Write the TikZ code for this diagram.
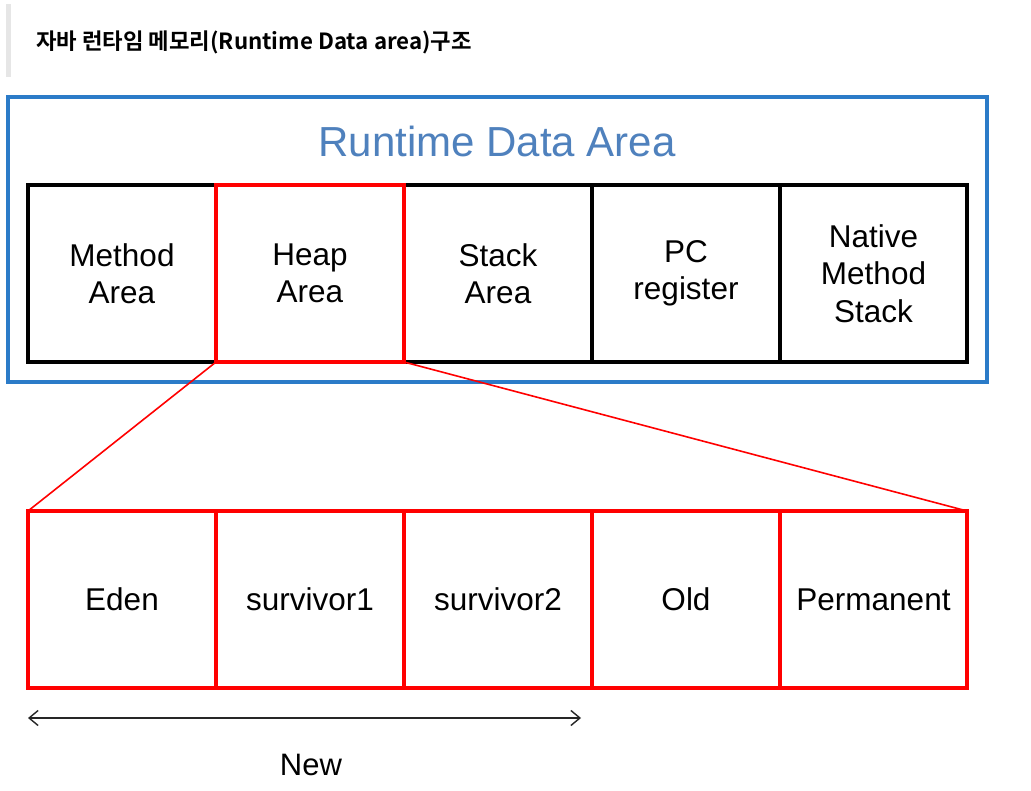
\documentclass[tikz,border=0pt]{standalone}
\usepackage{fontspec}
\setmainfont{Liberation Sans}
\newfontfamily\krfont{Noto Sans CJK KR Bold}
\usetikzlibrary{arrows.meta}
\definecolor{areablue}{HTML}{2B7BC8}
\definecolor{titleblue}{HTML}{4F81BD}
\definecolor{barGray}{HTML}{E6E6E6}
\tikzset{
  cell/.style={draw=black, line width=3.2pt, minimum width=188pt, minimum height=177pt,
    inner sep=0pt, outer sep=0pt, align=center,
    font=\fontsize{31.5}{37.5}\selectfont},
  heapcell/.style={cell, draw=red},
  zoomline/.style={draw=red, line width=1.6pt},
  spanarrow/.style={draw=black!85, line width=1.4pt, {Straight Barb[length=9pt,width=15pt,line width=1.4pt]}-{Straight Barb[length=9pt,width=15pt,line width=1.4pt]}}
}
\begin{document}
\begin{tikzpicture}[x=1pt,y=-1pt]
\useasboundingbox[fill=white] (0,0) rectangle (1031,791);
% title bar
\fill[barGray] (6,4) rectangle (11,77);
\node[anchor=west, inner sep=0pt, font=\krfont\fontsize{22.3}{26}\selectfont] (title) at (36,42) {자바 런타임 메모리(Runtime Data area)구조};
% outer blue area
\node[draw=areablue, line width=3.2pt, minimum width=979pt, minimum height=285pt, inner sep=0pt] (rda) at (497.5,239.5) {};
\node[text=titleblue, font=\fontsize{42}{48}\selectfont, inner sep=0pt, anchor=base] (rdatitle) at (497,157) {Runtime Data Area};
% top row
\node[cell] (method) at (122,273.5) {Method\\Area};
\node[cell] (stack) at (498,273.5) {Stack\\Area};
\node[cell] (pc) at (686,273.5) {PC\\register};
\node[cell, minimum width=187pt] (native) at (873.5,273.5) {Native\\Method\\Stack};
\node[heapcell] (heap) at (310,273.5) {Heap\\Area};
% bottom row
\node[heapcell] (eden) at (122,599.5) {Eden};
\node[heapcell] (surv1) at (310,599.5) {survivor1};
\node[heapcell] (surv2) at (498,599.5) {survivor2};
\node[heapcell] (old) at (686,599.5) {Old};
\node[heapcell, minimum width=187pt] (perm) at (873.5,599.5) {Permanent};
% zoom lines
\draw[zoomline] (heap.south west) -- (eden.north west);
\draw[zoomline] (heap.south east) -- (perm.north east);
% New arrow
\coordinate (newL) at (28,718);
\coordinate (newR) at (581,718);
\draw[spanarrow] (newL) -- (newR);
\node[font=\fontsize{31}{36}\selectfont, inner sep=0pt] (newlbl) at (311,765) {New};
\end{tikzpicture}
\end{document}
